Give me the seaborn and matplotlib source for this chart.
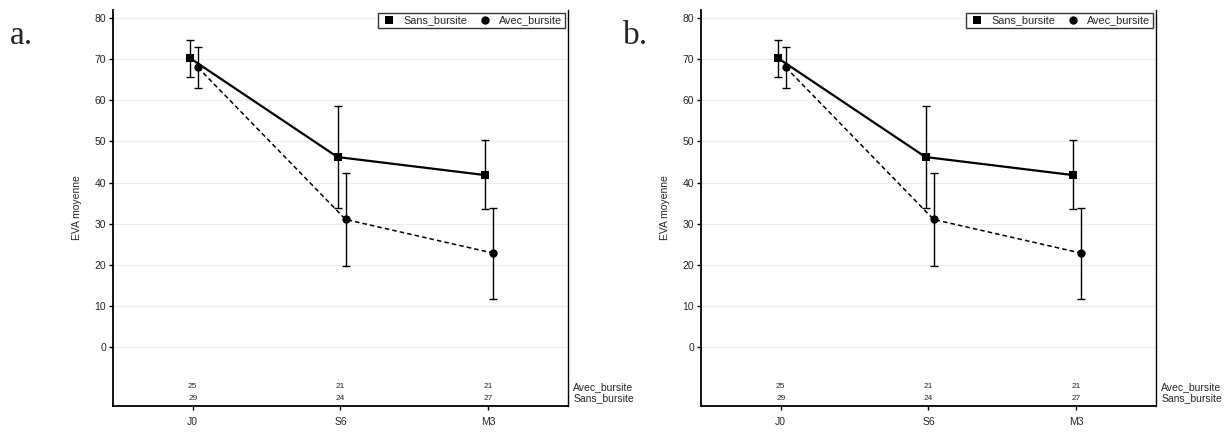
import numpy as np
import pandas as pd
import seaborn as sns
import matplotlib.pyplot as plt

# data
times = ["J0", "S6", "M3"]
sans_mean = [70.3, 46.2, 41.8]
sans_low = [65.6, 33.9, 33.5]
sans_high = [74.8, 58.6, 50.3]
avec_mean = [68.0, 31.0, 22.8]
avec_low = [63.0, 19.7, 11.6]
avec_high = [73.0, 42.3, 33.8]
n_avec = [25, 21, 21]
n_sans = [29, 24, 27]

sns.set_style("white")
plt.rcParams['font.family'] = ['Liberation Sans', 'DejaVu Sans']

df = pd.DataFrame({
    "pos": list(np.arange(3) - 0.02) + list(np.arange(3) + 0.035),
    "EVA": sans_mean + avec_mean,
    "groupe": ["Sans_bursite"] * 3 + ["Avec_bursite"] * 3,
})


def panel(ax):
    sns.lineplot(data=df, x="pos", y="EVA", hue="groupe", style="groupe",
                 palette=["black", "black"], markers={"Sans_bursite": "s", "Avec_bursite": "o"},
                 dashes={"Sans_bursite": "", "Avec_bursite": (3, 2)},
                 markersize=6, markeredgewidth=0, ax=ax, zorder=3)
    for line in ax.lines:
        if line.get_linestyle() == "-":
            line.set_linewidth(1.6)
        else:
            line.set_linewidth(1.1)
    xs = np.arange(3)
    for off, m, lo, hi in [(-0.02, sans_mean, sans_low, sans_high),
                           (0.035, avec_mean, avec_low, avec_high)]:
        m = np.array(m)
        ax.errorbar(xs + off, m, yerr=[m - np.array(lo), np.array(hi) - m], fmt="none",
                    ecolor="black", elinewidth=1, capsize=3, capthick=1, zorder=2)
    for i in range(3):
        ax.text(i, -9.7, str(n_avec[i]), ha="center", va="center", fontsize=6)
        ax.text(i, -12.6, str(n_sans[i]), ha="center", va="center", fontsize=6)
    tr = ax.get_yaxis_transform()
    ax.text(1.012, -9.7, "Avec_bursite", transform=tr, ha="left", va="center", fontsize=7.5)
    ax.text(1.012, -12.6, "Sans_bursite", transform=tr, ha="left", va="center", fontsize=7.5)

    ax.set_xlim(-0.54, 2.54)
    ax.set_ylim(-14.4, 82)
    ax.set_yticks(range(0, 81, 10))
    ax.set_xticks(range(3))
    ax.set_xticklabels(times)
    ax.tick_params(axis="both", labelsize=7.5, length=3, width=1, direction="out",
                   left=True, bottom=True, pad=2, color="black")
    ax.tick_params(axis="x", pad=5)
    for y in range(0, 81, 10):
        ax.axhline(y, color="#ececec", lw=0.8, zorder=0)
    ax.set_xlabel("")
    ax.set_ylabel("EVA moyenne", fontsize=7.5, labelpad=9)
    ax.spines["top"].set_visible(False)
    ax.spines["left"].set_linewidth(1.3)
    ax.spines["bottom"].set_linewidth(1.3)
    ax.spines["right"].set_linewidth(1.0)
    for s in ax.spines.values():
        s.set_color("black")

    h, l = ax.get_legend_handles_labels()
    leg = ax.legend(h, l, loc="upper right", ncol=2, fontsize=7.8, frameon=True,
                    fancybox=False, edgecolor="black", borderaxespad=0.3,
                    handlelength=1.6, handletextpad=0.5, columnspacing=0.9,
                    borderpad=0.2)
    for lh in leg.legend_handles:
        lh.set_linestyle("")
    leg.get_frame().set_linewidth(1)


fig = plt.figure(figsize=(12.27, 4.41), dpi=100)
ax1 = fig.add_axes([0.0921, 0.0794, 0.3708, 0.898])
ax2 = fig.add_axes([0.5713, 0.0794, 0.3708, 0.898])
panel(ax1)
panel(ax2)
fig.text(0.008, 0.918, "a.", fontsize=24, family="Liberation Serif", ha="left", va="center")
fig.text(0.508, 0.918, "b.", fontsize=24, family="Liberation Serif", ha="left", va="center")

plt.savefig("out.png", dpi=100)
